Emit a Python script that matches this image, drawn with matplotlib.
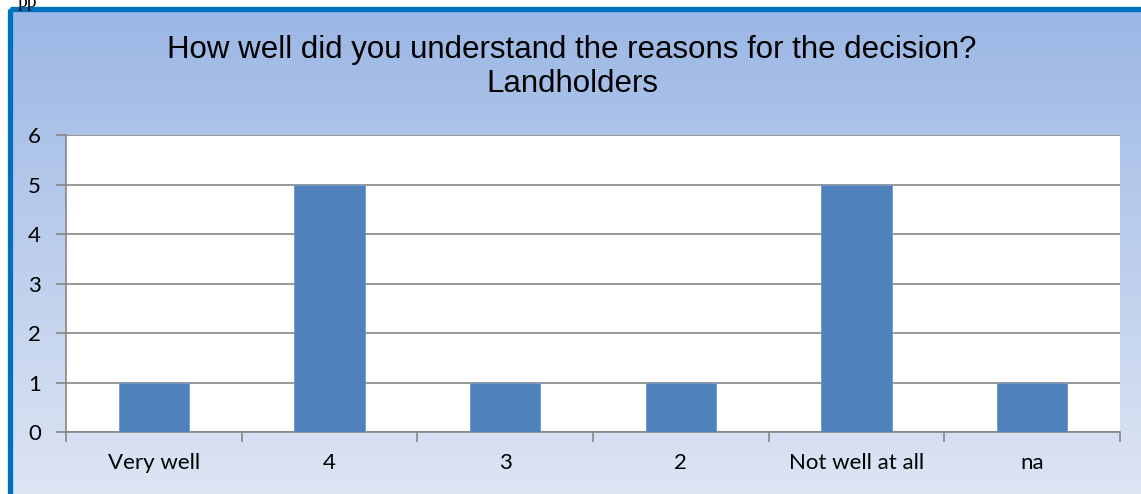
import matplotlib.pyplot as plt
import numpy as np
from matplotlib.patches import Rectangle

# Data
categories = ["Very well", "4", "3", "2", "Not well at all", "na"]
counts = [1, 5, 1, 1, 5, 1]
title = "How well did you understand the reasons for the decision?\nLandholders"

W, H = 1141, 494
fig = plt.figure(figsize=(W / 100, H / 100), dpi=100)
fig.patch.set_facecolor("white")

# background: gradient panel with blue frame
bg = fig.add_axes([0, 0, 1, 1])
bg.set_xlim(0, W)
bg.set_ylim(H, 0)
bg.axis("off")
top = np.array([155, 183, 229]) / 255
bot = np.array([221, 229, 243]) / 255
t = np.linspace(0, 1, 256)[:, None, None]
grad = top * (1 - t) + bot * t
grad = np.repeat(grad, 2, axis=1)
bg.imshow(grad, extent=[9, W, H, 9], aspect="auto", zorder=0)
bg.add_patch(Rectangle((10, 9.5), W + 20, H + 20, fill=False,
                       edgecolor="#0070C0", linewidth=3.8, zorder=1))
bg.text(18, -6, "pp", fontsize=14, family="Liberation Serif", va="top", ha="left")

# title
fig.text(572 / W, 1 - 67 / H, title, ha="center", va="center",
         fontsize=22.5, family="Liberation Sans", linespacing=1.2)

# chart area
ax = fig.add_axes([66 / W, 1 - 432 / H, (1120 - 66) / W, (432 - 135) / H])
ax.set_facecolor("white")
x = np.arange(len(categories))
ax.bar(x, counts, width=0.4, color="#4F81BD", edgecolor="#6E98CC",
       linewidth=0.6, zorder=3)
ax.set_xlim(-0.5, len(categories) - 0.5)
ax.set_ylim(0, 6)
ax.set_yticks(range(7))
ax.yaxis.grid(True, color="#868686", linewidth=1.2, zorder=0)
ax.set_xticks(np.arange(-0.5, len(categories), 1.0))
ax.set_xticklabels([])
ax.set_xticks(x, minor=True)
ax.set_xticklabels(categories, minor=True, fontsize=16, family="Lato")
ax.tick_params(axis="x", which="major", length=7, direction="out", color="#868686", width=1.2)
ax.tick_params(axis="x", which="minor", length=0, pad=15)
ax.tick_params(axis="y", length=7, color="#868686", width=1.2, labelsize=16, pad=11)
for lbl in ax.get_yticklabels():
    lbl.set_family("Lato")
for s in ["top", "right"]:
    ax.spines[s].set_visible(False)
for s in ["left", "bottom"]:
    ax.spines[s].set_color("#868686")
    ax.spines[s].set_linewidth(1.2)

plt.savefig("out.png", dpi=100)
